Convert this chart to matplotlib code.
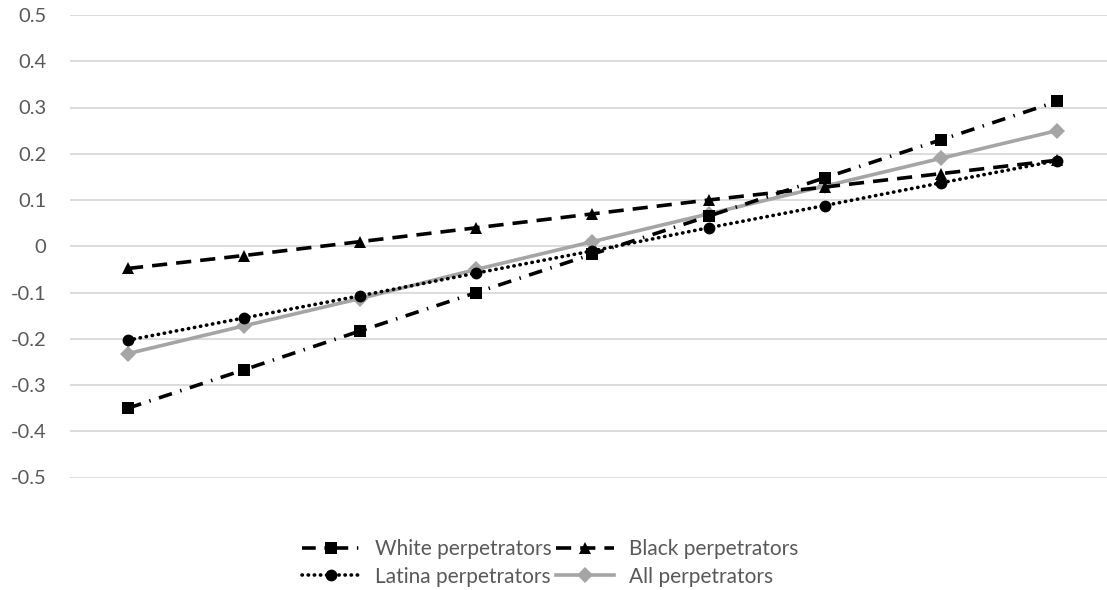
import matplotlib
matplotlib.use("Agg")
import matplotlib.pyplot as plt

plt.rcParams['font.family'] = ['Lato', 'DejaVu Sans']

# Score levels (no category labels shown on the horizontal axis)
levels = list(range(9))

white = [-0.350, -0.267, -0.183, -0.100, -0.017, 0.065, 0.148, 0.230, 0.313]
black = [-0.048, -0.020, 0.010, 0.040, 0.070, 0.100, 0.128, 0.157, 0.186]
latina = [-0.203, -0.155, -0.107, -0.058, -0.010, 0.040, 0.088, 0.137, 0.185]
all_perp = [-0.232, -0.172, -0.113, -0.050, 0.010, 0.070, 0.130, 0.190, 0.250]

series_names = ["White perpetrators", "Black perpetrators",
                "Latina perpetrators", "All perpetrators"]
y_ticks = [-0.5, -0.4, -0.3, -0.2, -0.1, 0, 0.1, 0.2, 0.3, 0.4, 0.5]
y_tick_labels = ["-0.5", "-0.4", "-0.3", "-0.2", "-0.1", "0",
                 "0.1", "0.2", "0.3", "0.4", "0.5"]

W, H = 1107, 590
fig = plt.figure(figsize=(W / 100, H / 100), dpi=100)
left, right = 70, 1115
top, bottom = 15, 477.5
ax = fig.add_axes([left / W, 1 - bottom / H, (right - left) / W, (bottom - top) / H])

text_color = "#595959"
lw = 2.6

ax.plot(levels, all_perp, color="#A5A5A5", lw=lw, marker="D", markersize=8,
        markeredgewidth=0, label=series_names[3], zorder=3, clip_on=False)
ax.plot(levels, latina, color="black", lw=lw, linestyle=(0, (0.1, 1.6)),
        dash_capstyle="round", marker="o", markersize=8.5, markeredgewidth=0,
        label=series_names[2], zorder=4, clip_on=False)
ax.plot(levels, black, color="black", lw=lw, linestyle=(0, (4.2, 2.5)),
        marker="^", markersize=9, markeredgewidth=0,
        label=series_names[1], zorder=5, clip_on=False)
ax.plot(levels, white, color="black", lw=lw,
        linestyle=(0, (3.8, 2.4, 0.4, 2.4)),
        marker="s", markersize=8, markeredgewidth=0,
        label=series_names[0], zorder=6, clip_on=False)

ax.set_xlim(-0.5, 8.5)
ax.set_ylim(-0.5, 0.5)
ax.set_yticks(y_ticks)
ax.set_yticklabels(y_tick_labels)
ax.set_xticks([])
ax.grid(axis="y", color="#D9D9D9", lw=1.3)
ax.set_axisbelow(True)
for s in ax.spines.values():
    s.set_visible(False)
ax.tick_params(axis="y", length=0, pad=17, labelsize=14.5, labelcolor=text_color)

handles, labels = ax.get_legend_handles_labels()
by_name = dict(zip(labels, handles))
# two-column legend filled column-wise: White, Latina | Black, All
legend_order = [series_names[0], series_names[2], series_names[1], series_names[3]]
leg = fig.legend([by_name[n] for n in legend_order], legend_order, ncol=2,
                 loc="center", bbox_to_anchor=(550 / W, 1 - 563 / H),
                 frameon=False, fontsize=15, handlelength=2.8, handletextpad=0.7,
                 columnspacing=0.2, labelspacing=0.35, labelcolor=text_color)

fig.savefig("out.png", dpi=100, facecolor="white")
